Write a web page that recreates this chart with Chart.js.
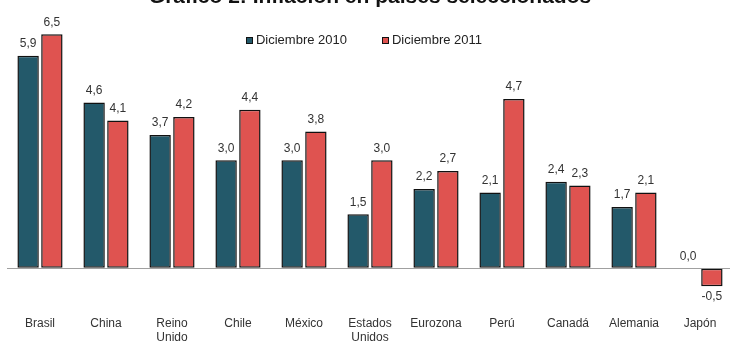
<!DOCTYPE html>
<html>
<head>
<meta charset="utf-8">
<script src="https://cdn.jsdelivr.net/npm/chart.js@4/dist/chart.umd.min.js"></script>
<style>
  html, body { margin: 0; padding: 0; background: #fff; overflow: hidden; }
  #wrap { position: relative; width: 730px; height: 341px; overflow: hidden; }
  #chart { position: absolute; left: 0; top: -15px; }
  #legend {
    position: absolute; top: 32px; left: 0; width: 728px;
    display: flex; justify-content: center; gap: 35px;
    font: 13px/16px "Liberation Sans", Arial, sans-serif; color: #222;
  }
  #legend span.item { display: flex; align-items: center; }
  #legend span.box { width: 7px; height: 7px; margin-right: 3px; border: 1px solid #111; box-sizing: border-box; }
</style>
</head>
<body>
<div id="wrap">
  <canvas id="chart" width="733" height="364"></canvas>
  <div id="legend"></div>
</div>
<script>
// Inflation by country, Dec 2010 vs Dec 2011
const titleText = 'Gráfico 2: Inflación en países seleccionados';
const countries = ['Brasil', 'China', ['Reino', 'Unido'], 'Chile', 'México', ['Estados', 'Unidos'],
  'Eurozona', 'Perú', 'Canadá', 'Alemania', 'Japón'];
const seriesNames = ['Diciembre 2010', 'Diciembre 2011'];
const dec2010 = [5.9, 4.6, 3.7, 3.0, 3.0, 1.5, 2.2, 2.1, 2.4, 1.7, 0.0];
const dec2011 = [6.5, 4.1, 4.2, 4.4, 3.8, 3.0, 2.7, 4.7, 2.3, 2.1, -0.5];

const colors = ['#23596a', '#df5350'];
const FONT = '"Liberation Sans", Arial, sans-serif';

// Draws the value labels above (or below, for negatives) each bar
const valueLabels = {
  id: 'valueLabels',
  afterDatasetsDraw(chart) {
    const ctx = chart.ctx;
    ctx.save();
    ctx.font = '12px ' + FONT;
    ctx.fillStyle = '#333';
    ctx.textAlign = 'center';
    ctx.textBaseline = 'middle';
    chart.data.datasets.forEach((ds, i) => {
      chart.getDatasetMeta(i).data.forEach((bar, j) => {
        const v = ds.data[j];
        const txt = v.toFixed(1).replace('.', ',');
        const y = v < 0 ? bar.y + 10 : bar.y - 12;
        ctx.fillText(txt, bar.x, y);
      });
    });
    ctx.restore();
  }
};

const chart = new Chart(document.getElementById('chart'), {
  type: 'bar',
  data: {
    labels: countries,
    datasets: [
      { label: seriesNames[0], data: dec2010, backgroundColor: colors[0] },
      { label: seriesNames[1], data: dec2011, backgroundColor: colors[1] }
    ].map(ds => Object.assign(ds, {
      borderColor: '#111', borderWidth: 1.5, borderSkipped: false,
      categoryPercentage: 0.72, barPercentage: 0.9
    }))
  },
  options: {
    responsive: false,
    animation: false,
    layout: { padding: { left: 7, right: 0, top: 0, bottom: 0 } },
    plugins: {
      legend: { display: false },
      tooltip: { enabled: false },
      title: {
        display: true,
        text: titleText,
        color: '#111',
        font: { family: FONT, size: 21, weight: 'bold' },
        padding: { top: 0, bottom: 6 }
      }
    },
    scales: {
      x: {
        grid: { display: false },
        border: { display: false },
        ticks: {
          autoSkip: false, maxRotation: 0, padding: 4, color: '#333',
          font: { family: FONT, size: 12 }
        }
      },
      y: {
        min: -1.0,
        max: 7.0,
        ticks: { display: false, stepSize: 0.5 },
        border: { display: false },
        grid: {
          drawTicks: false,
          color: c => (c.tick && c.tick.value === 0) ? '#a0a0a0' : 'rgba(0,0,0,0)',
          lineWidth: 1
        }
      }
    }
  },
  plugins: [valueLabels]
});

// HTML legend built from the chart's datasets
const legendEl = document.getElementById('legend');
chart.data.datasets.forEach(ds => {
  const item = document.createElement('span');
  item.className = 'item';
  const box = document.createElement('span');
  box.className = 'box';
  box.style.background = ds.backgroundColor;
  item.appendChild(box);
  item.appendChild(document.createTextNode(ds.label));
  legendEl.appendChild(item);
});
</script>
</body>
</html>
